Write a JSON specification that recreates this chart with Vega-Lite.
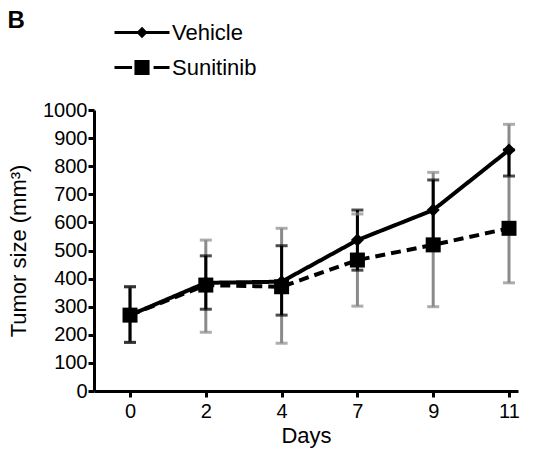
{
  "$schema": "https://vega.github.io/schema/vega-lite/v6.json",
  "width": 424,
  "height": 281,
  "autosize": {"type": "none"},
  "padding": {"left": 94, "top": 110, "right": 15, "bottom": 58},
  "background": "white",
  "title": {"text": "B", "anchor": "start", "frame": "bounds", "fontSize": 24, "fontWeight": "bold", "font": "Liberation Sans", "color": "black", "offset": -18},
  "config": {
    "font": "Liberation Sans",
    "view": {"stroke": null},
    "axis": {"domainColor": "black", "domainWidth": 3, "tickColor": "black", "tickWidth": 3, "tickSize": 6, "labelColor": "black", "titleColor": "black", "labelFontSize": 20, "titleFontSize": 22, "titleFontWeight": "normal", "labelFont": "Liberation Sans", "titleFont": "Liberation Sans", "grid": false, "labelOverlap": false}
  },
  "data": {"values": [
    {"day": 0, "group": "Sunitinib", "mean": 270, "lo": 173, "hi": 371},
    {"day": 2, "group": "Sunitinib", "mean": 377, "lo": 209, "hi": 537},
    {"day": 4, "group": "Sunitinib", "mean": 371, "lo": 170, "hi": 579},
    {"day": 7, "group": "Sunitinib", "mean": 466, "lo": 302, "hi": 630},
    {"day": 9, "group": "Sunitinib", "mean": 520, "lo": 300, "hi": 778},
    {"day": 11, "group": "Sunitinib", "mean": 579, "lo": 385, "hi": 949},
    {"day": 0, "group": "Vehicle", "mean": 270, "lo": 173, "hi": 371},
    {"day": 2, "group": "Vehicle", "mean": 385, "lo": 291, "hi": 481},
    {"day": 4, "group": "Vehicle", "mean": 389, "lo": 270, "hi": 517},
    {"day": 7, "group": "Vehicle", "mean": 537, "lo": 430, "hi": 644},
    {"day": 9, "group": "Vehicle", "mean": 644, "lo": 537, "hi": 751},
    {"day": 11, "group": "Vehicle", "mean": 858, "lo": 765, "hi": 858}
  ]},
  "encoding": {
    "x": {"field": "day", "type": "ordinal", "scale": {"type": "point", "padding": 0.297, "align": 0.8}, "axis": {"title": "Days", "labelAngle": 0, "titlePadding": 4, "labelPadding": 4}},
    "y": {"field": "mean", "type": "quantitative", "scale": {"domain": [0, 1000]}, "axis": {"title": "Tumor size (mm³)", "format": "d", "values": [0,100,200,300,400,500,600,700,800,900,1000], "tickCount": 11, "labelOverlap": false, "labelPadding": 1, "titlePadding": 12}}
  },
  "layer": [
    {
      "mark": {"type": "rule", "strokeWidth": 3},
      "encoding": {
        "y": {"field": "lo", "type": "quantitative", "scale": {"domain": [0, 1000]}, "axis": {"title": "Tumor size (mm³)", "format": "d", "values": [0,100,200,300,400,500,600,700,800,900,1000], "tickCount": 11, "labelOverlap": false, "labelPadding": 1, "titlePadding": 12}},
        "y2": {"field": "hi"},
        "color": {"field": "group", "type": "nominal", "scale": {"domain": ["Vehicle", "Sunitinib"], "range": ["black", "#8a8a8a"]}, "legend": null}
      }
    },
    {
      "mark": {"type": "tick", "size": 12, "thickness": 3},
      "encoding": {
        "y": {"field": "lo", "type": "quantitative", "axis": {"title": "Tumor size (mm³)", "format": "d", "values": [0,100,200,300,400,500,600,700,800,900,1000], "tickCount": 11, "labelOverlap": false, "labelPadding": 1, "titlePadding": 12}},
        "color": {"field": "group", "type": "nominal", "legend": null}
      }
    },
    {
      "mark": {"type": "tick", "size": 12, "thickness": 3},
      "encoding": {
        "y": {"field": "hi", "type": "quantitative", "axis": {"title": "Tumor size (mm³)", "format": "d", "values": [0,100,200,300,400,500,600,700,800,900,1000], "tickCount": 11, "labelOverlap": false, "labelPadding": 1, "titlePadding": 12}},
        "color": {"field": "group", "type": "nominal", "legend": null}
      }
    },
    {
      "mark": {"type": "line", "strokeWidth": 4, "color": "black"},
      "encoding": {
        "strokeDash": {"field": "group", "type": "nominal", "scale": {"domain": ["Vehicle", "Sunitinib"], "range": [[1, 0], [10, 6]]}, "legend": null}
      }
    },
    {
      "mark": {"type": "point", "filled": true, "opacity": 1, "color": "black"},
      "encoding": {
        "shape": {"field": "group", "type": "nominal", "scale": {"domain": ["Vehicle", "Sunitinib"], "range": ["diamond", "square"]}, "legend": null},
        "size": {"field": "group", "type": "nominal", "scale": {"domain": ["Vehicle", "Sunitinib"], "range": [170, 225]}, "legend": null}
      }
    },
    {
      "mark": {"type": "point", "filled": false, "opacity": 0, "color": "black", "strokeWidth": 3},
      "encoding": {
        "shape": {
          "field": "group", "type": "nominal",
          "scale": {"domain": ["Vehicle", "Sunitinib"], "range": ["M-1,0H1M0,-0.13L0.13,0L0,0.13L-0.13,0Z", "M-1,0H-0.36M0.42,0H1M-0.22,-0.22H0.22V0.22H-0.22ZM-0.22,-0.11H0.22M-0.22,0H0.22M-0.22,0.11H0.22"]},
          "legend": {
            "title": null, "orient": "none", "legendX": 19, "legendY": -95, "padding": 0,
            "symbolSize": 3025, "symbolStrokeWidth": 3, "symbolFillColor": "black", "symbolStrokeColor": "black",
            "labelFontSize": 22, "labelFont": "Liberation Sans", "labelColor": "black", "labelOffset": 1, "rowPadding": 0, "clipHeight": 35,
            "encode": {"symbols": {"update": {"opacity": {"value": 1}, "strokeOpacity": {"value": 1}, "stroke": {"value": "black"}, "strokeWidth": {"value": 3}}}}
          }
        }
      }
    }
  ],
  "resolve": {"scale": {"shape": "independent"}, "legend": {"shape": "independent"}}
}
